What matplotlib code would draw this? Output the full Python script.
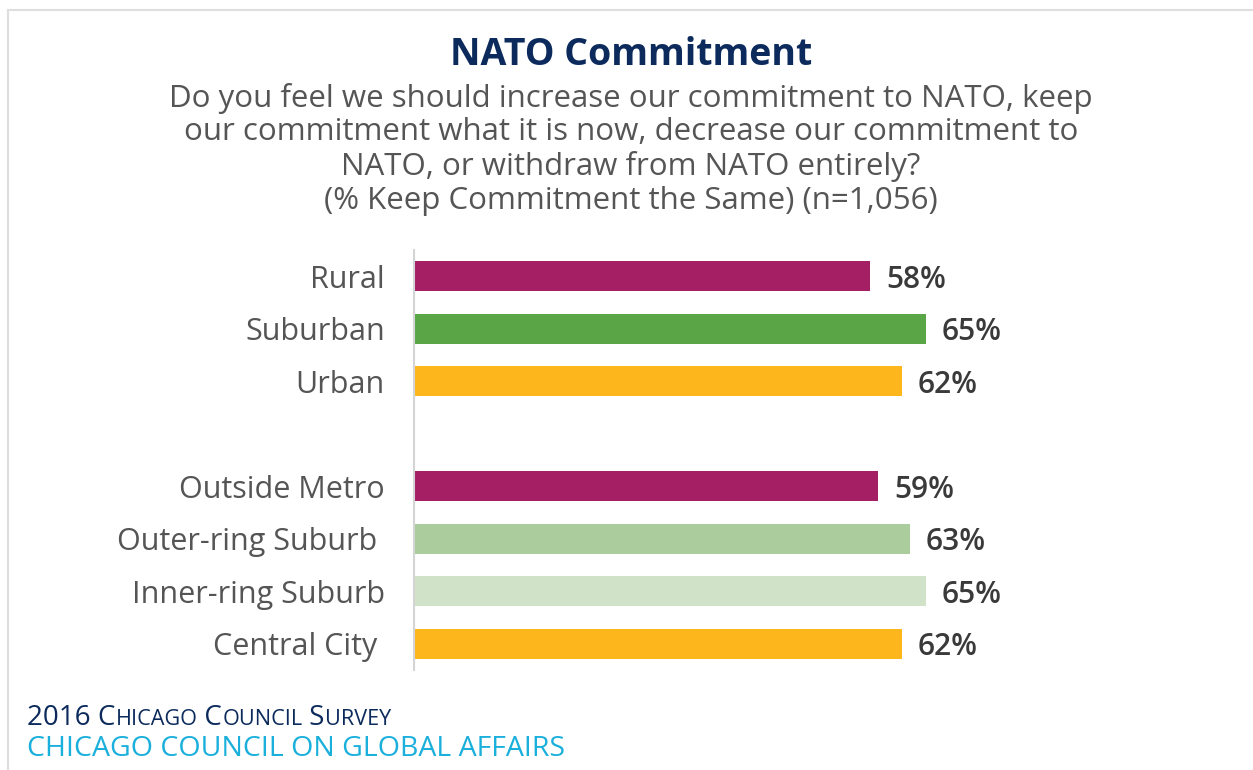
import matplotlib.pyplot as plt
from matplotlib.patches import Rectangle

plt.rcParams["font.family"] = ["Open Sans", "DejaVu Sans"]

categories = ["Rural", "Suburban", "Urban", "",
              "Outside Metro", "Outer-ring Suburb ", "Inner-ring Suburb", "Central City "]
values = [58, 65, 62, None, 59, 63, 65, 62]
colors = ["#a51f65", "#5aa646", "#fdb71c", None,
          "#a51f65", "#abcc9c", "#d0e2c8", "#fdb71c"]

title = "NATO Commitment"
subtitle = ["Do you feel we should increase our commitment to NATO, keep",
            "our commitment what it is now, decrease our commitment to",
            "NATO, or withdraw from NATO entirely?",
            "(% Keep Commitment the Same) (n=1,056)"]

W, H = 1253, 770
fig = plt.figure(figsize=(W / 100, H / 100), dpi=100)
fig.patch.set_facecolor("white")

# frame line along the top and left
fig.patches.append(Rectangle((8 / W, -0.05), 1.1, 1 - 10 / H + 0.05,
                             transform=fig.transFigure, fill=False,
                             edgecolor="#dedede", linewidth=1.5, clip_on=False))

ax = fig.add_axes([414 / W, 1 - 670 / H, 787 / W, 420 / H])
rows = list(range(len(categories)))
for i, (v, c) in enumerate(zip(values, colors)):
    if v is None:
        continue
    ax.barh(i, v, height=0.58, color=c)
    ax.annotate(f"{v}%", (v, i), xytext=(11.5, 0), textcoords="offset points",
                ha="left", va="center_baseline", fontsize=21.5, color="#3a3a3a",
                fontweight="semibold")

ax.set_xlim(0, 100)
ax.set_ylim(7.5, -0.5)
ax.set_yticks(rows)
ax.set_yticklabels(categories, fontsize=22, color="#555555")
ax.tick_params(axis="y", length=0, pad=21)
ax.set_xticks([])
for s in ["top", "right", "bottom"]:
    ax.spines[s].set_visible(False)
ax.spines["left"].set_color("#d4d4d4")
ax.spines["left"].set_linewidth(1.5)

fig.text(631 / W, 1 - 55 / H, title, ha="center", va="center",
         fontsize=27, fontweight="bold", color="#0c2b5c")
for k, line in enumerate(subtitle):
    fig.text(631 / W, 1 - (98 + 34.5 * k) / H, line, ha="center", va="center",
             fontsize=22.5, color="#555555")


def small_caps(x, y, text, size, color, weight="normal"):
    # draws text in small caps by shrinking lowercase runs
    renderer = fig.canvas.get_renderer()
    parts = []
    cur = ""
    for ch in text:
        low = ch.islower()
        if cur and (cur[-1].islower()) != low:
            parts.append(cur)
            cur = ""
        cur += ch
    if cur:
        parts.append(cur)
    px = x
    for p in parts:
        fs = size * 0.78 if p[0].islower() else size
        t = fig.text(px / W, 1 - y / H, p.upper(), fontsize=fs, color=color,
                     ha="left", va="baseline", fontweight=weight)
        bb = t.get_window_extent(renderer)
        px += bb.width


small_caps(27, 725, "2016 Chicago Council Survey", 20, "#0c2b5c", "medium")
fig.text(27 / W, 1 - 756 / H, "CHICAGO COUNCIL ON GLOBAL AFFAIRS", fontsize=20.5,
         color="#1bb0dc", ha="left", va="baseline", fontweight="medium")

fig.savefig("out.png", dpi=100)
